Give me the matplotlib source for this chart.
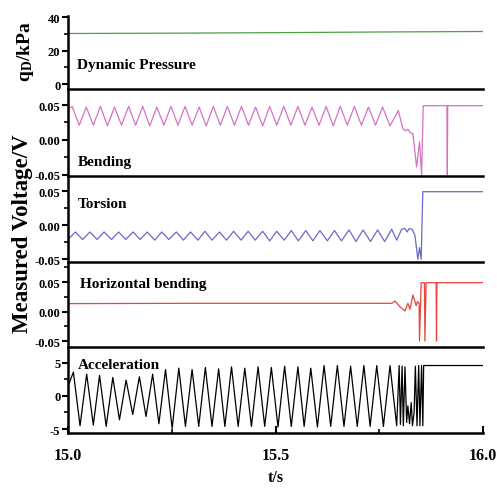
import numpy as np
import matplotlib
matplotlib.use('Agg')
import matplotlib.pyplot as plt
from matplotlib.ticker import MultipleLocator

plt.rcParams['font.family'] = ['Liberation Serif', 'DejaVu Serif']
plt.rcParams['font.weight'] = 'bold'
plt.rcParams['mathtext.fontset'] = 'custom'
plt.rcParams['mathtext.rm'] = 'Liberation Serif:bold'
plt.rcParams['mathtext.it'] = 'Liberation Serif:bold'

# dynamic pressure, kPa
dp_t = [15.0, 15.25, 15.5, 15.75, 16.0]
dp_v = [30.3, 30.5, 30.8, 31.2, 31.5]

# bending, V (peaks / troughs of the oscillation, then the tail)
bend_peak_t = [15.010, 15.044, 15.078, 15.112, 15.146, 15.180, 15.214, 15.248, 15.282, 15.316, 15.350, 15.384,
               15.418, 15.452, 15.486, 15.520, 15.554, 15.588, 15.622, 15.656, 15.690, 15.724, 15.758]
bend_peak_v = [0.048, 0.047, 0.048, 0.047, 0.048, 0.048, 0.047, 0.048, 0.048, 0.047, 0.048, 0.048,
               0.048, 0.047, 0.048, 0.048, 0.048, 0.047, 0.048, 0.048, 0.048, 0.047, 0.047]
bend_trough_t = [15.027, 15.061, 15.095, 15.129, 15.163, 15.197, 15.231, 15.265, 15.299, 15.333, 15.367,
                 15.401, 15.435, 15.469, 15.503, 15.537, 15.571, 15.605, 15.639, 15.673, 15.707, 15.741]
bend_trough_v = [0.021, 0.021, 0.020, 0.021, 0.021, 0.020, 0.021, 0.021, 0.021, 0.020, 0.021,
                 0.021, 0.021, 0.020, 0.021, 0.021, 0.021, 0.021, 0.020, 0.021, 0.021, 0.021]
bend_tail_t = [15.000, 15.776, 15.796, 15.807, 15.813, 15.819, 15.825, 15.831, 15.840, 15.847, 15.852, 15.856,
               15.913, 15.914, 15.915, 16.0]
bend_tail_v = [0.044, 0.020, 0.042, 0.016, 0.013, 0.015, 0.010, 0.009, -0.039, -0.003, -0.050, 0.049,
               0.049, -0.050, 0.049, 0.049]

# torsion, V
tor_peak_t = [15.018, 15.053, 15.087, 15.122, 15.157, 15.191, 15.226, 15.261, 15.295, 15.330, 15.365, 15.399,
              15.434, 15.469, 15.503, 15.538, 15.573, 15.607, 15.642, 15.677, 15.711, 15.746, 15.780]
tor_peak_v = [-0.010, -0.010, -0.010, -0.010, -0.010, -0.010, -0.010, -0.010, -0.010, -0.009, -0.010, -0.009,
              -0.009, -0.009, -0.009, -0.008, -0.008, -0.008, -0.008, -0.007, -0.007, -0.007, -0.006]
tor_trough_t = [15.035, 15.070, 15.105, 15.139, 15.174, 15.209, 15.243, 15.278, 15.313, 15.347, 15.382,
                15.417, 15.451, 15.486, 15.521, 15.555, 15.590, 15.625, 15.659, 15.694, 15.729, 15.763]
tor_trough_v = [-0.021, -0.021, -0.021, -0.021, -0.021, -0.022, -0.021, -0.022, -0.022, -0.022, -0.022,
                -0.022, -0.022, -0.023, -0.022, -0.023, -0.023, -0.023, -0.023, -0.024, -0.024, -0.024]
tor_tail_t = [15.000, 15.792, 15.804, 15.812, 15.817, 15.822, 15.829, 15.836, 15.843, 15.847, 15.851, 15.855, 16.0]
tor_tail_v = [-0.021, -0.022, -0.006, -0.005, -0.010, -0.005, -0.006, -0.015, -0.050, -0.033, -0.050, 0.049, 0.049]

# horizontal bending, V
hb_t = [15.0, 15.3, 15.6, 15.780, 15.788, 15.800, 15.812, 15.819, 15.824, 15.831, 15.839, 15.842, 15.846,
        15.847, 15.851, 15.859, 15.860, 15.863, 15.887, 15.888, 15.889, 16.0]
hb_v = [0.0135, 0.014, 0.014, 0.014, 0.018, 0.008, 0.001, 0.014, 0.004, 0.028, 0.010, 0.017, 0.014,
        -0.050, 0.049, 0.049, -0.050, 0.049, 0.049, -0.050, 0.049, 0.049]

# acceleration
acc_peak_t = [15.013, 15.045, 15.076, 15.108, 15.140, 15.172, 15.204, 15.235, 15.267, 15.299, 15.331, 15.363,
              15.394, 15.426, 15.458, 15.490, 15.522, 15.554, 15.585, 15.617, 15.649, 15.681, 15.713, 15.744, 15.776]
acc_peak_v = [3.6, 3.3, 3.1, 2.8, 2.4, 2.9, 3.3, 4.0, 4.2, 4.0, 4.3, 4.1,
              4.4, 4.2, 4.4, 4.3, 4.5, 4.4, 4.2, 4.6, 4.6, 4.5, 4.6, 4.6, 4.6]
acc_trough_t = [15.029, 15.061, 15.092, 15.124, 15.156, 15.188, 15.219, 15.251, 15.283, 15.315, 15.347, 15.378,
                15.410, 15.442, 15.474, 15.506, 15.538, 15.569, 15.601, 15.633, 15.665, 15.697, 15.728, 15.760, 15.792]
acc_trough_v = [-4.5, -4.4, -4.6, -3.6, -2.8, -3.1, -4.2, -4.9, -4.6, -4.6, -4.6, -4.6,
                -4.6, -4.6, -4.6, -4.7, -4.6, -4.6, -4.7, -4.6, -4.6, -4.6, -4.6, -4.6, -4.5]
acc_tail_t = [15.000, 15.798, 15.801, 15.805, 15.808, 15.812, 15.816, 15.819, 15.823, 15.827, 15.830, 15.834,
              15.837, 15.841, 15.845, 15.848, 15.852, 15.855, 15.857, 16.0]
acc_tail_v = [1.5, 4.6, -4.3, 4.5, -4.5, 4.4, -4.0, -1.5, -4.2, -1.0, -4.5, -2.5,
              4.5, -4.5, 4.6, -4.5, 4.6, -4.5, 4.6, 4.6]


def merge(*parts):
    t = np.concatenate([np.asarray(p[0], float) for p in parts])
    v = np.concatenate([np.asarray(p[1], float) for p in parts])
    o = np.argsort(t, kind='stable')
    return t[o], v[o]


bend = merge((bend_peak_t, bend_peak_v), (bend_trough_t, bend_trough_v), (bend_tail_t, bend_tail_v))
tor = merge((tor_peak_t, tor_peak_v), (tor_trough_t, tor_trough_v), (tor_tail_t, tor_tail_v))
acc = merge((acc_peak_t, acc_peak_v), (acc_trough_t, acc_trough_v), (acc_tail_t, acc_tail_v))

W, H = 497, 489
fig = plt.figure(figsize=(W / 100, H / 100), dpi=100)
left, width = 68 / W, 415 / W
# (top px, bottom px) of each panel
rows = [(17, 90), (90, 177), (177, 263), (263, 348), (348, 434)]
axes = [fig.add_axes([left, 1 - b / H, width, (b - t) / H]) for t, b in rows]

series = [
    ((dp_t, dp_v), '#4e9e46', (-3.0, 40.8), 20, 10),
    (bend, '#d472c6', (-0.052, 0.073), 0.05, 0.025),
    (tor, '#6a6ac8', (-0.054, 0.072), 0.05, 0.025),
    ((hb_t, hb_v), '#e8453c', (-0.060, 0.084), 0.05, 0.025),
    (acc, 'black', (-5.6, 7.4), 5, 2.5),
]
fmts = ['{:.0f}', '{:.2f}', '{:.2f}', '{:.2f}', '{:.0f}']

for ax, (data, c, yl, maj, mnr), f in zip(axes, series, fmts):
    ax.plot(data[0], data[1], color=c, lw=0.9, solid_joinstyle='round')
    ax.set_xlim(15.0, 16.0)
    ax.set_ylim(*yl)
    ax.spines['top'].set_visible(False)
    ax.spines['right'].set_visible(False)
    ax.spines['left'].set_linewidth(1.8)
    ax.spines['bottom'].set_linewidth(1.8)
    ax.patch.set_alpha(0)
    ax.yaxis.set_major_locator(MultipleLocator(maj))
    ax.yaxis.set_minor_locator(MultipleLocator(mnr))
    ax.set_yticks([v for v in ax.get_yticks() if yl[0] - 1e-9 <= v <= yl[1]])
    ax.set_yticklabels([f.format(v) for v in ax.get_yticks()])
    ax.tick_params(axis='y', which='major', direction='out', length=4, width=1.5, pad=1.5, labelsize=9)
    ax.tick_params(axis='y', which='minor', direction='out', length=3, width=1.2)
    ax.tick_params(axis='x', which='both', bottom=False, labelbottom=False)

ab = axes[-1]
ab.xaxis.set_minor_locator(MultipleLocator(0.25))
ab.set_xticks([15.0, 15.5, 16.0])
ab.set_xticklabels(['15.0', '15.5', '16.0'])
ab.tick_params(axis='x', which='major', bottom=True, labelbottom=True, direction='in', length=5, width=1.5,
               pad=10, labelsize=11.5)
ab.tick_params(axis='x', which='minor', bottom=True, direction='in', length=3, width=1.2)

labels = [('Dynamic Pressure', 77, 65), ('Bending', 78, 163), ('Torsion', 78, 205),
          ('Horizontal bending', 80, 285), ('Acceleration', 78, 366)]
for s, x, y in labels:
    fig.text(x / W, 1 - y / H, s, fontsize=11, va='center', ha='left')

fig.text(25 / W, 1 - 52 / H, r'$\mathrm{q_D}$/kPa', fontsize=14, rotation=90, va='center', ha='center')
fig.text(23 / W, 1 - 234 / H, 'Measured Voltage/V', fontsize=16.5, rotation=90, va='center', ha='center')
fig.text(276 / W, 1 - 478 / H, 't/s', fontsize=11.5, va='center', ha='center')

fig.savefig('out.png', dpi=100)
